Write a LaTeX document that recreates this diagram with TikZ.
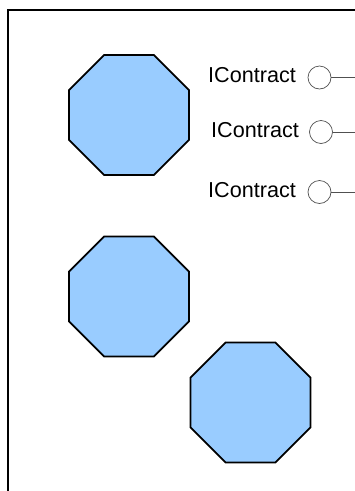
\documentclass[tikz,border=0pt]{standalone}
\usepackage{fontspec}
\setmainfont{Liberation Sans}
\usetikzlibrary{shapes.geometric}
\definecolor{octfill}{RGB}{153,204,255}
\definecolor{lolly}{RGB}{80,80,80}
\begin{document}
\begin{tikzpicture}[x=1pt,y=-1pt,
  octa/.style={regular polygon, regular polygon sides=8, minimum size=130pt, inner sep=0pt, outer sep=0pt, draw=black, line width=1.8pt, fill=octfill},
  port/.style={circle, draw=lolly, line width=0.7pt, minimum size=23pt, inner sep=0pt, outer sep=0pt, fill=white},
  portline/.style={draw=lolly, line width=0.9pt},
  lbl/.style={anchor=base west, inner sep=0pt, font=\fontsize{21.6}{26}\selectfont}]
\useasboundingbox (0,0) rectangle (355,491);
\fill[white] (0,0) rectangle (355,491);
\coordinate (fb) at (8,495);
\coordinate (ftl) at (8,10);
\coordinate (fr) at (360,10);
\draw[line width=2pt] (fb) -- (ftl) -- (fr);
\node[octa] (o1) at (129,115) {};
\node[octa] (o2) at (129,296.5) {};
\node[octa] (o3) at (250.5,402.5) {};
\node[port] (p1) at (319.5,77.5) {};
\node[port] (p2) at (321,132) {};
\node[port] (p3) at (319.5,192) {};
\coordinate (e1) at (356,77.5);
\coordinate (e2) at (356,132);
\coordinate (e3) at (356,192);
\draw[portline] (p1.east) -- (e1);
\draw[portline] (p2.east) -- (e2);
\draw[portline] (p3.east) -- (e3);
\node[lbl] (t1) at (208,82.5) {IContract};
\node[lbl] (t2) at (211,137.5) {IContract};
\node[lbl] (t3) at (208,197.5) {IContract};
\end{tikzpicture}
\end{document}
